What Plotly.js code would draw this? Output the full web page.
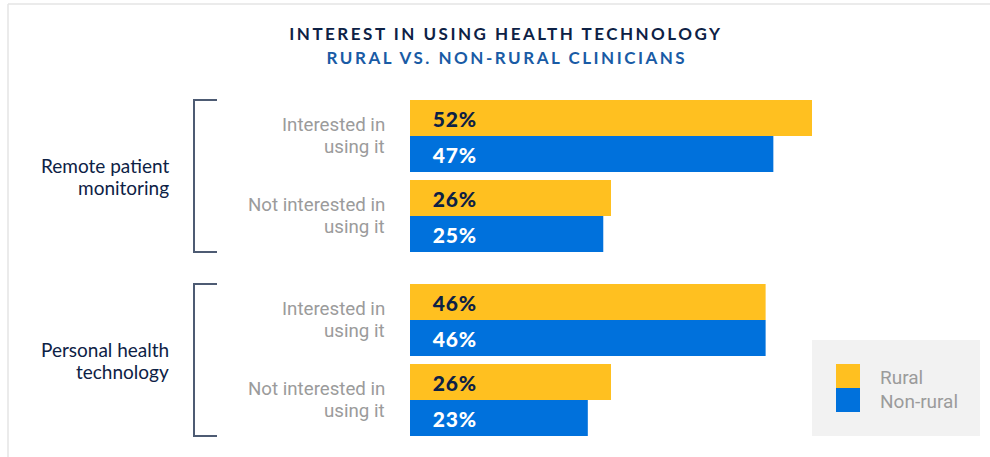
<!DOCTYPE html>
<html>
<head>
<meta charset="utf-8">
<script src="https://cdn.plot.ly/plotly-3.0.1.min.js"></script>
<style>
html,body{margin:0;padding:0;background:#fff;}
#chart{width:990px;height:457px;}
</style>
</head>
<body>
<div id="chart"></div>
<script>
// ---- data ----
var titleLine1 = 'INTEREST IN USING HEALTH TECHNOLOGY';
var titleLine2 = 'RURAL VS. NON-RURAL CLINICIANS';
var groups = ['Remote patient<br>monitoring', 'Personal health<br>technology'];
var responses = ['Interested in<br>using it', 'Not interested in<br>using it'];
var seriesNames = ['Rural', 'Non-rural'];
var ruralRemote = [52, 26];
var nonRuralRemote = [47, 25];
var ruralPersonal = [46, 26];
var nonRuralPersonal = [46, 23];

// ---- styles ----
var W = 990, H = 457;
var colors = ['#FFC020', '#0071DC'];
var labelColors = ['#0D2145', '#FFFFFF'];
var navy = '#0D2145';
var gray = '#9B9B9B';
function px(x){ return x / W; }
function py(y){ return 1 - y / H; }
var LINE = 22; // line spacing of two-line labels, px

var barW = 36 / 80;   // bar thickness in category units
var seriesData = [[ruralRemote, nonRuralRemote], [ruralPersonal, nonRuralPersonal]];
var axisSuffix = ['', '2'];

var traces = [];
var annotations = [];
var shapes = [];

function twoLine(text, base){
  var lines = text.split('<br>');
  lines.forEach(function(ln, k){
    var a = Object.assign({}, base, {text: ln, showarrow: false,
      yshift: ((lines.length - 1) / 2 - k) * LINE});
    annotations.push(a);
  });
}

seriesData.forEach(function(pair, g){
  var xr = 'x' + axisSuffix[g], yr = 'y' + axisSuffix[g];
  pair.forEach(function(vals, s){
    traces.push({
      type: 'bar', orientation: 'h',
      x: vals, y: responses,
      name: seriesNames[s],
      xaxis: xr, yaxis: yr,
      width: barW, offset: s === 0 ? -barW : 0,
      marker: {color: colors[s], line: {width: 0}},
      showlegend: false, hoverinfo: 'skip'
    });
    vals.forEach(function(v, i){
      annotations.push({
        xref: xr, yref: yr,
        x: 0, y: i + (s === 0 ? -barW / 2 : barW / 2),
        xanchor: 'left', yanchor: 'middle', xshift: 22,
        text: v + '%', showarrow: false,
        font: {family: 'Lato', size: 21, weight: 900, color: labelColors[s]}
      });
    });
  });
  // response labels (category names)
  responses.forEach(function(r, i){
    twoLine(r, {xref: xr, yref: yr, x: 0, y: i, xanchor: 'right', yanchor: 'middle', xshift: -23,
      font: {family: 'Roboto', size: 18.7, color: gray}});
  });
  // group label
  twoLine(groups[g], {xref: 'paper', yref: yr + ' domain', x: px(171), y: 0.5,
    xanchor: 'right', yanchor: 'middle', font: {family: 'Lato', size: 19, color: navy}});
  // bracket
  var yd = yr + ' domain';
  var lineStyle = {color: '#4D5B73', width: 2};
  shapes.push({type: 'line', xref: 'paper', yref: yd, x0: px(194), x1: px(194), y0: 0, y1: 1, line: lineStyle});
  shapes.push({type: 'line', xref: 'paper', yref: yd, x0: px(193), x1: px(217), y0: 1, y1: 1, line: lineStyle});
  shapes.push({type: 'line', xref: 'paper', yref: yd, x0: px(193), x1: px(217), y0: 0, y1: 0, line: lineStyle});
});

// title
annotations.push({xref: 'paper', yref: 'paper', x: px(507), y: py(33), xanchor: 'center', yanchor: 'middle',
  text: '<b>' + titleLine1 + '</b>', showarrow: false,
  font: {family: 'Lato', size: 17, weight: 900, color: navy}});
annotations.push({xref: 'paper', yref: 'paper', x: px(507), y: py(57), xanchor: 'center', yanchor: 'middle',
  text: '<b>' + titleLine2 + '</b>', showarrow: false,
  font: {family: 'Lato', size: 17, weight: 900, color: '#195BA5'}});

// frame lines
shapes.push({type: 'line', xref: 'paper', yref: 'paper', x0: px(8), x1: px(8), y0: 0, y1: py(4), line: {color: '#E4E4E4', width: 1.5}});
shapes.push({type: 'line', xref: 'paper', yref: 'paper', x0: px(8), x1: 1, y0: py(4), y1: py(4), line: {color: '#E4E4E4', width: 1.5}});

// legend box
shapes.push({type: 'rect', xref: 'paper', yref: 'paper', x0: px(812), x1: px(980), y0: py(436), y1: py(340), fillcolor: '#F2F2F2', line: {width: 0}, layer: 'below'});
seriesNames.forEach(function(n, s){
  var top = 364 + s * 24;
  shapes.push({type: 'rect', xref: 'paper', yref: 'paper', x0: px(836), x1: px(860), y0: py(top + 24), y1: py(top), fillcolor: colors[s], line: {width: 0}});
  annotations.push({xref: 'paper', yref: 'paper', x: px(878), y: py(top + 13), xanchor: 'left', yanchor: 'middle',
    text: n, showarrow: false, font: {family: 'Roboto', size: 19, color: gray}});
});

var xEnd = px(410 + (402 / 52) * 60);
var yAxisCommon = {
  type: 'category', range: [1 + barW, -barW], showgrid: false, zeroline: false, showline: false,
  ticks: '', showticklabels: false, fixedrange: true
};
var xAxisCommon = {range: [0, 60], showgrid: false, zeroline: false, showline: false, showticklabels: false, ticks: '', domain: [px(410), xEnd], fixedrange: true};

var layout = {
  width: W, height: H,
  margin: {l: 0, r: 0, t: 0, b: 0, pad: 0},
  paper_bgcolor: '#FFFFFF', plot_bgcolor: 'rgba(0,0,0,0)',
  showlegend: false,
  barmode: 'overlay',
  xaxis: Object.assign({}, xAxisCommon, {anchor: 'y'}),
  xaxis2: Object.assign({}, xAxisCommon, {anchor: 'y2'}),
  yaxis: Object.assign({}, yAxisCommon, {domain: [py(252), py(100)], anchor: 'x'}),
  yaxis2: Object.assign({}, yAxisCommon, {domain: [py(436), py(284)], anchor: 'x2'}),
  annotations: annotations,
  shapes: shapes
};

Plotly.newPlot('chart', traces, layout, {staticPlot: true, displayModeBar: false}).then(function(){
  document.querySelectorAll('.annotation-text').forEach(function(el){
    var t = el.textContent;
    if (t === titleLine1 || t === titleLine2) { el.style.letterSpacing = '2.5px'; }
    else if (/^\d+%$/.test(t)) { el.style.letterSpacing = '0.8px'; }
  });
});
</script>
</body>
</html>
